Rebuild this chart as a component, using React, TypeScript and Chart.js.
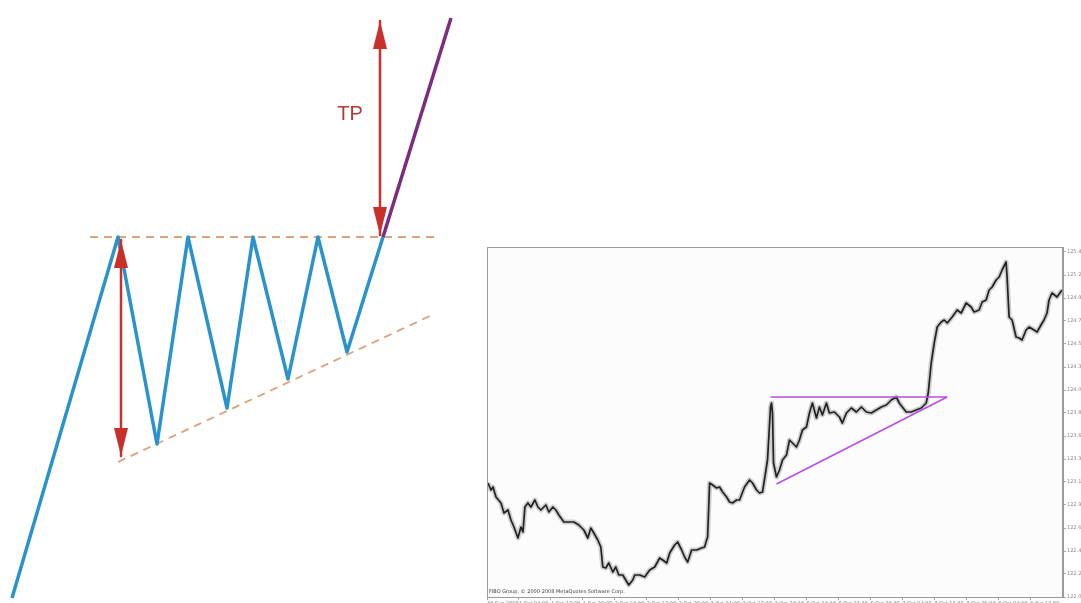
import React, { useEffect, useRef } from "react";
import { Chart, registerables } from "chart.js";
Chart.register(...registerables);

// ---------- Left diagram: ascending triangle (time units, price units) ----------
const zigzagT = [12, 118, 157, 188, 227, 253, 288, 318, 347, 383];
const zigzagP = [5, 366, 159, 366, 195, 366, 224, 366, 251, 366];
const breakoutT = [383, 451];
const breakoutP = [366, 585];
const resistanceT = [90, 437];
const resistanceP = [366, 366];
const supportT = [118, 432];
const supportP = [141, 288];
const heightArrowT = [121, 121];
const heightArrowP = [363, 147];
const tpArrowT = [380, 380];
const tpArrowP = [582, 368];
const tpLabel = { text: "TP", t: 350, p: 489 };

// ---------- Right chart: price history (bar index, price) ----------
const barIndex = [
  1, 4, 6, 9, 14, 17, 21, 24, 27, 31, 34, 36, 38, 41, 44, 48, 51, 54, 59, 62, 66, 69, 72,
  77, 82, 87, 92, 97, 101, 104, 107, 111, 114, 116, 119, 122, 126, 129, 132, 136, 139, 142,
  146, 148, 153, 158, 163, 168, 173, 176, 180, 183, 188, 191, 195, 198, 201, 205, 210, 215,
  218, 220, 221, 223, 226, 230, 233, 236, 240, 243, 246, 250, 253, 258, 263, 266, 270, 273,
  276, 279, 281, 284, 285, 286, 287, 290, 293, 296, 300, 303, 306, 310, 313, 316, 320, 323,
  326, 330, 333, 336, 340, 343, 348, 353, 356, 360, 365, 370, 375, 380, 385, 390, 395, 400,
  405, 410, 413, 416, 420, 425, 430, 435, 440, 442, 445, 448, 451, 455, 458, 461, 466, 471,
  475, 480, 485, 488, 493, 496, 500, 503, 506, 510, 513, 516, 520, 521, 523, 526, 530, 533,
  536, 540, 543, 548, 551, 555, 558, 561, 563, 566, 571, 576,
];
const closePrice = [
  123.14, 123.07, 123.1, 123.0, 122.94, 122.84, 122.87, 122.77, 122.7, 122.59, 122.7,
  122.65, 122.9, 122.94, 122.9, 122.97, 122.9, 122.87, 122.92, 122.85, 122.9, 122.87,
  122.82, 122.75, 122.75, 122.75, 122.72, 122.67, 122.59, 122.69, 122.64, 122.57, 122.5,
  122.3, 122.29, 122.34, 122.25, 122.3, 122.22, 122.22, 122.17, 122.12, 122.17, 122.22,
  122.22, 122.2, 122.27, 122.3, 122.39, 122.37, 122.34, 122.44, 122.52, 122.55, 122.47,
  122.4, 122.35, 122.47, 122.47, 122.49, 122.5, 122.57, 122.6, 123.14, 123.12, 123.09,
  123.1, 123.05, 123.0, 122.95, 122.94, 122.97, 122.97, 123.1, 123.17, 123.14, 123.07,
  123.04, 123.05, 123.24, 123.37, 123.9, 123.94, 123.84, 123.34, 123.2, 123.27, 123.37,
  123.42, 123.57, 123.54, 123.5, 123.57, 123.67, 123.7, 123.84, 123.94, 123.79, 123.9,
  123.82, 123.94, 123.84, 123.85, 123.8, 123.74, 123.84, 123.89, 123.85, 123.9, 123.85,
  123.84, 123.87, 123.9, 123.92, 123.97, 124.0, 123.94, 123.9, 123.85, 123.85, 123.87,
  123.89, 123.94, 124.04, 124.34, 124.54, 124.7, 124.75, 124.77, 124.74, 124.8, 124.87,
  124.84, 124.94, 124.9, 124.85, 124.87, 124.95, 124.97, 125.07, 125.1, 125.17, 125.2,
  125.27, 125.35, 125.2, 124.8, 124.77, 124.6, 124.59, 124.57, 124.67, 124.7, 124.67,
  124.65, 124.72, 124.77, 124.84, 124.97, 125.04, 125.0, 125.07,
];
const triTopIndex = [284, 461];
const triTopPrice = [124.0, 124.0];
const triBottomIndex = [290, 461];
const triBottomPrice = [123.13, 124.0];

const yTicks = [
  122.0, 122.23, 122.46, 122.69, 122.92, 123.15, 123.38, 123.61, 123.84, 124.07, 124.3,
  124.53, 124.76, 124.99, 125.22, 125.45,
];
const xTicks = [0, 32, 64, 96, 128, 160, 192, 224, 256, 288, 320, 352, 384, 416, 448, 480, 512, 544];
const xTickLabels = [
  "30 Sep 2008", "1 Oct 04:00", "1 Oct 12:00", "1 Oct 20:00", "2 Oct 04:00", "2 Oct 12:00",
  "2 Oct 20:00", "3 Oct 04:00", "3 Oct 12:00", "3 Oct 20:00", "6 Oct 04:00", "6 Oct 12:00",
  "6 Oct 20:00", "7 Oct 04:00", "7 Oct 12:00", "7 Oct 20:00", "8 Oct 04:00", "8 Oct 12:00",
];
const copyright = "FIBO Group, \u00a9 2000-2008 MetaQuotes Software Corp.";

const pts = (xs: number[], ys: number[]) => xs.map((x, i) => ({ x, y: ys[i] }));

function drawHead(ctx: CanvasRenderingContext2D, fx: number, fy: number, tx: number, ty: number, color: string) {
  const ang = Math.atan2(ty - fy, tx - fx);
  ctx.save();
  ctx.translate(tx, ty);
  ctx.rotate(ang);
  ctx.beginPath();
  ctx.moveTo(0, 0);
  ctx.lineTo(-28, -7);
  ctx.lineTo(-28, 7);
  ctx.closePath();
  ctx.fillStyle = color;
  ctx.fill();
  ctx.restore();
}

const arrowPlugin = {
  id: "arrowHeads",
  afterDatasetsDraw(chart: any) {
    const ctx = chart.ctx;
    chart.data.datasets.forEach((ds: any, i: number) => {
      if (!ds.arrowHeads) return;
      const d = chart.getDatasetMeta(i).data;
      const a = d[0];
      const b = d[d.length - 1];
      drawHead(ctx, b.x, b.y, a.x, a.y, ds.borderColor);
      drawHead(ctx, a.x, a.y, b.x, b.y, ds.borderColor);
    });
    const x = chart.scales.x.getPixelForValue(tpLabel.t);
    const y = chart.scales.y.getPixelForValue(tpLabel.p);
    ctx.save();
    ctx.font = "20px 'Liberation Sans', Arial, sans-serif";
    ctx.fillStyle = "#b5382c";
    ctx.textAlign = "center";
    ctx.textBaseline = "middle";
    ctx.fillText(tpLabel.text, x, y);
    ctx.restore();
  },
};

const framePlugin = {
  id: "frame",
  beforeDraw(chart: any) {
    const { ctx, chartArea: c } = chart;
    ctx.save();
    ctx.fillStyle = "#fbfcfb";
    ctx.fillRect(c.left, c.top, c.right - c.left, c.bottom - c.top);
    ctx.restore();
  },
  afterDraw(chart: any) {
    const { ctx, chartArea: c } = chart;
    ctx.save();
    ctx.strokeStyle = "#9c9c9c";
    ctx.lineWidth = 1;
    ctx.strokeRect(c.left + 0.5, c.top + 0.5, c.right - c.left - 1, c.bottom - c.top);
    ctx.font = "5px 'DejaVu Sans', sans-serif";
    ctx.fillStyle = "#444";
    ctx.textBaseline = "bottom";
    ctx.fillText(copyright, c.left + 2, c.bottom - 3);
    ctx.restore();
  },
};

function LeftDiagram() {
  const ref = useRef<HTMLCanvasElement>(null);
  useEffect(() => {
    const line = (data: any, color: string, width: number, extra: any = {}) => ({
      data,
      borderColor: color,
      backgroundColor: color,
      borderWidth: width,
      showLine: true,
      pointRadius: 0,
      fill: false,
      tension: 0,
      borderJoinStyle: "round",
      ...extra,
    });
    const chart = new Chart(ref.current!, {
      type: "scatter",
      data: {
        datasets: [
          line(pts(heightArrowT, heightArrowP), "#c9302c", 2.5, { arrowHeads: true, order: 0 }),
          line(pts(tpArrowT, tpArrowP), "#c9302c", 2.5, { arrowHeads: true, order: 1 }),
          line(pts(breakoutT, breakoutP), "#7b2c7e", 3.5, { order: 2 }),
          line(pts(zigzagT, zigzagP), "#2b93cc", 3.5, { order: 3 }),
          line(pts(resistanceT, resistanceP), "#dca27a", 1.8, { borderDash: [8, 6], order: 4 }),
          line(pts(supportT, supportP), "#dca27a", 1.8, { borderDash: [8, 6], order: 5 }),
        ] as any,
      },
      options: {
        animation: false,
        responsive: true,
        maintainAspectRatio: false,
        layout: { padding: 0 },
        plugins: { legend: { display: false }, tooltip: { enabled: false } },
        scales: {
          x: { type: "linear", min: 0, max: 470, display: false },
          y: { type: "linear", min: 0, max: 603, display: false },
        },
      },
      plugins: [arrowPlugin],
    });
    return () => chart.destroy();
  }, []);
  return (
    <div style={{ position: "absolute", left: 0, top: 0, width: 470, height: 603 }}>
      <canvas ref={ref} />
    </div>
  );
}

function RightChart() {
  const ref = useRef<HTMLCanvasElement>(null);
  useEffect(() => {
    const price = pts(barIndex, closePrice);
    const chart = new Chart(ref.current!, {
      type: "scatter",
      data: {
        datasets: [
          {
            data: pts(triTopIndex, triTopPrice),
            borderColor: "#b84ce6",
            borderWidth: 1.5,
            showLine: true,
            pointRadius: 0,
            order: 0,
          },
          {
            data: pts(triBottomIndex, triBottomPrice),
            borderColor: "#b84ce6",
            borderWidth: 1.5,
            showLine: true,
            pointRadius: 0,
            order: 1,
          },
          {
            data: price,
            borderColor: "#222222",
            borderWidth: 1.7,
            borderJoinStyle: "round",
            showLine: true,
            pointRadius: 0,
            order: 2,
          },
          {
            data: price,
            borderColor: "rgba(100,100,100,0.3)",
            borderWidth: 5,
            borderJoinStyle: "round",
            showLine: true,
            pointRadius: 0,
            order: 3,
          },
        ] as any,
      },
      options: {
        animation: false,
        responsive: true,
        maintainAspectRatio: false,
        layout: { padding: { left: 3, top: 7, right: 0, bottom: 3 } },
        plugins: { legend: { display: false }, tooltip: { enabled: false } },
        scales: {
          x: {
            type: "linear",
            min: 0,
            max: 577,
            afterBuildTicks: (s: any) => {
              s.ticks = xTicks.map((v) => ({ value: v }));
            },
            afterFit: (s: any) => {
              s.height = 18;
            },
            ticks: {
              autoSkip: false,
              maxRotation: 0,
              align: "start",
              padding: 1,
              font: { size: 5, family: "'DejaVu Sans', sans-serif" },
              color: "#777",
              callback: (_v: any, i: number) => xTickLabels[i],
            },
            grid: { drawOnChartArea: false, tickLength: 3, color: "#aaa" },
            border: { display: true, color: "#9c9c9c" },
          },
          y: {
            type: "linear",
            position: "right",
            min: 122.0,
            max: 125.5,
            afterBuildTicks: (s: any) => {
              s.ticks = yTicks.map((v) => ({ value: v }));
            },
            afterFit: (s: any) => {
              s.width = 18;
            },
            ticks: {
              padding: 1,
              font: { size: 5, family: "'DejaVu Sans', sans-serif" },
              color: "#8a8a8a",
              callback: (v: any) => Number(v).toFixed(2),
            },
            grid: { drawOnChartArea: false, tickLength: 3, color: "#aaa" },
            border: { display: true, color: "#9c9c9c" },
          },
        },
      },
      plugins: [framePlugin],
    });
    return () => chart.destroy();
  }, []);
  return (
    <div style={{ position: "absolute", left: 484, top: 240, width: 597, height: 378 }}>
      <canvas ref={ref} />
    </div>
  );
}

export default function App() {
  return (
    <div
      style={{
        position: "fixed",
        left: 0,
        top: 0,
        width: 1081,
        height: 603,
        overflow: "hidden",
        background: "#ffffff",
      }}
    >
      <LeftDiagram />
      <RightChart />
    </div>
  );
}
